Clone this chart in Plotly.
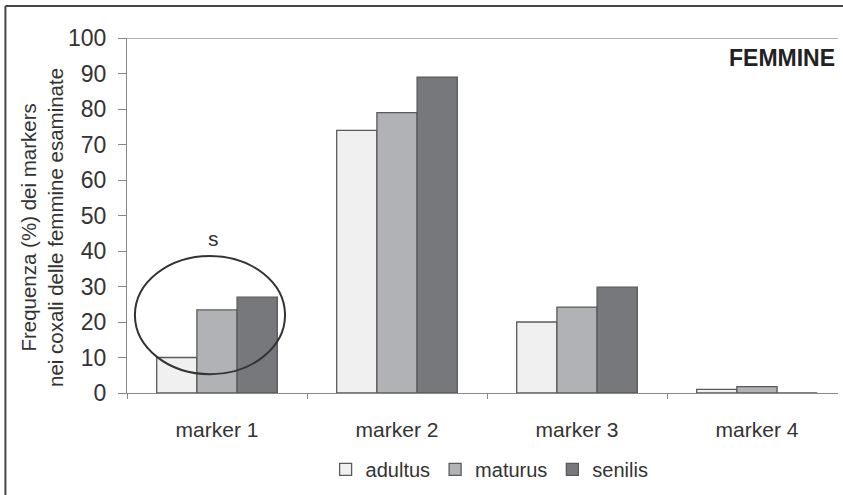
import plotly.graph_objects as go

categories = ["marker 1", "marker 2", "marker 3", "marker 4"]
series_names = ["adultus", "maturus", "senilis"]
adultus = [10, 74, 20, 1]
maturus = [23.4, 79, 24.2, 1.8]
senilis = [27, 89, 29.8, 0]
y_ticks = [0, 10, 20, 30, 40, 50, 60, 70, 80, 90, 100]

series_values = [adultus, maturus, senilis]
colors = ["#f0f0f0", "#b1b2b5", "#77787c"]
FONT = "Liberation Sans, Arial, sans-serif"

fig = go.Figure()
for name, vals, col in zip(series_names, series_values, colors):
    fig.add_trace(go.Bar(
        x=categories, y=vals, name=name,
        marker=dict(color=col, line=dict(color="#5a5a5a", width=1.3)),
    ))

fig.update_layout(
    width=843, height=495,
    margin=dict(l=127, r=5, t=38, b=102),
    paper_bgcolor="white", plot_bgcolor="white",
    barmode="group", bargap=0.33, bargroupgap=0,
    font=dict(family=FONT, color="#333333"),
    showlegend=True,
    legend=dict(orientation="h", x=0.51, xanchor="center", y=-0.215, yanchor="middle",
                font=dict(size=20, color="#333333"), itemwidth=30,
                traceorder="normal", bgcolor="rgba(0,0,0,0)"),
    xaxis=dict(range=[-0.5, 3.45], showline=True, linecolor="#888888", linewidth=1.3,
               ticks="outside", tickson="boundaries", ticklen=5, tickcolor="#888888",
               ticklabelstandoff=18,
               tickfont=dict(size=21, color="#333333"), showgrid=False, zeroline=False),
    yaxis=dict(range=[0, 100], tickvals=y_ticks, showline=True, linecolor="#888888",
               linewidth=1.3, ticks="outside", ticklen=8, tickcolor="#888888",
               ticklabelstandoff=7,
               tickfont=dict(size=23, color="#333333"), showgrid=False, zeroline=False),
)

# y-axis title
fig.add_annotation(x=-0.1195, y=0.465, xref="paper", yref="paper", textangle=-90,
                   text="Frequenza (%) dei markers<br>nei coxali delle femmine esaminate",
                   showarrow=False, xanchor="center", yanchor="middle",
                   font=dict(size=20.5, color="#333333"))
# top line at 100
fig.add_shape(type="line", xref="paper", yref="y", x0=0, x1=1, y0=100, y1=100,
              line=dict(color="#999999", width=1.3))
# outer frame (left and top edges visible)
fig.add_shape(type="line", xref="paper", yref="paper", x0=-0.171, x1=-0.171, y0=1.09, y1=-0.3,
              line=dict(color="#444444", width=2))
fig.add_shape(type="line", xref="paper", yref="paper", x0=-0.171, x1=1.01, y0=1.09, y1=1.09,
              line=dict(color="#444444", width=2))
# ellipse around marker 1
fig.add_shape(type="circle", xref="x", yref="y", x0=-0.456, x1=0.378, y0=5.3, y1=38.6,
              line=dict(color="#333333", width=2))
fig.add_annotation(x=-0.02, y=43.5, xref="x", yref="y", text="s", showarrow=False,
                   font=dict(size=21, color="#333333"))
fig.add_annotation(x=0.999, y=0.985, xref="paper", yref="paper", text="<b>FEMMINE</b>",
                   showarrow=False, xanchor="right", yanchor="top",
                   font=dict(size=23, color="#222222"))

fig.write_html("out.html", config={"displayModeBar": False},
               post_script="document.body.style.margin='0';")
